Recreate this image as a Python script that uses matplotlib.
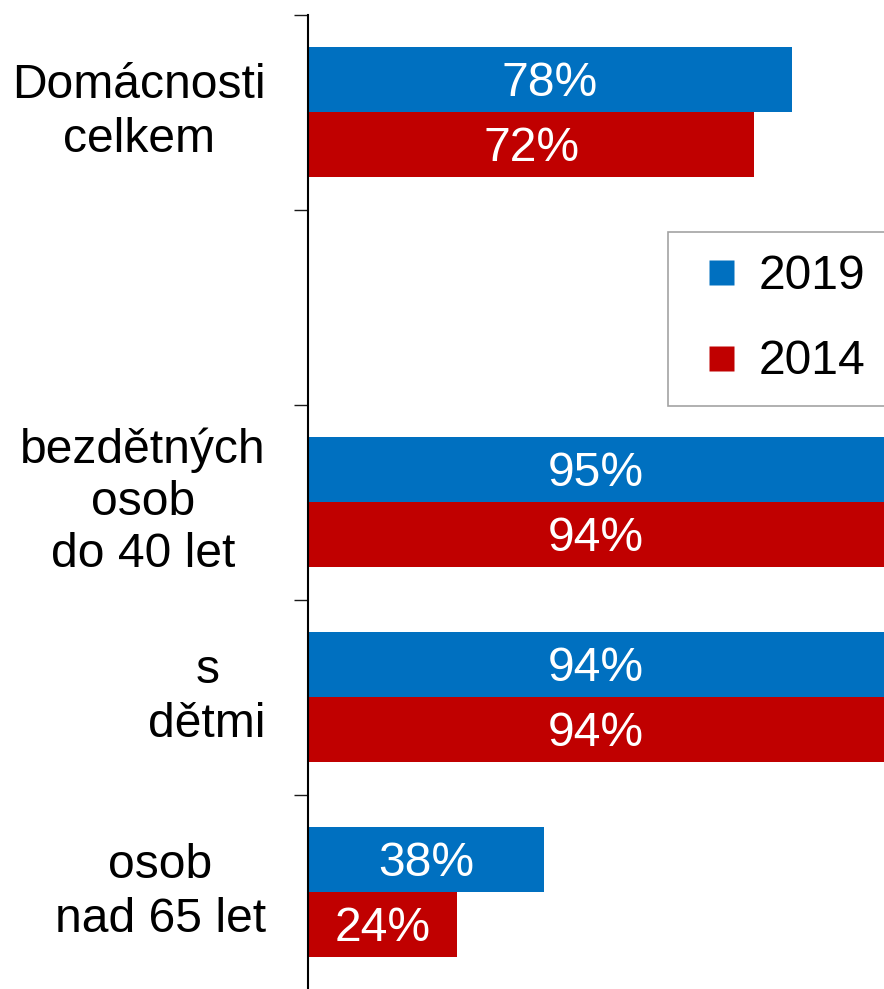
import numpy as np
import matplotlib.pyplot as plt
import matplotlib.transforms as mtransforms
from matplotlib.lines import Line2D

plt.rcParams['font.family'] = ['Liberation Sans', 'DejaVu Sans']

# data
kategorie = ['Domácnosti\ncelkem', '', 'bezdětných\nosob\ndo 40 let', 's\ndětmi', 'osob\nnad 65 let']
hodnoty_2019 = [78, None, 95, 94, 38]
hodnoty_2014 = [72, None, 94, 94, 24]
roky = ['2019', '2014']
barvy = ['#0070C0', '#C00000']

fig = plt.figure(figsize=(8.84, 9.89), dpi=100)
ax = fig.add_axes([308 / 884, -0.001, 1 - 308 / 884, 975 / 989])

xmax = 92.9
fs = 34.6
vyska = 1 / 3

for i, (v19, v14) in enumerate(zip(hodnoty_2019, hodnoty_2014)):
    stred = i + 0.5
    for v, off, c in ((v19, -vyska / 2, barvy[0]), (v14, vyska / 2, barvy[1])):
        if v is None:
            continue
        ax.barh(stred + off, v, height=vyska, color=c, edgecolor='none')
        # popisek uprostred viditelne casti sloupce
        ax.annotate(f'{v}%', (min(v, xmax) / 2, stred + off), xytext=(0, -11.5),
                    textcoords='offset points', color='white',
                    fontsize=fs, ha='center', va='baseline')

ax.set_xlim(0, xmax)
ax.set_ylim(len(kategorie), 0)

ax.set_xticks([])
ax.set_yticks(np.arange(len(kategorie) + 1))
ax.set_yticklabels([])
ax.tick_params(axis='y', direction='out', length=10, width=1.0, color='#1a1a1a')

for s in ['top', 'right', 'bottom']:
    ax.spines[s].set_visible(False)
ax.spines['left'].set_linewidth(1.5)

trans = mtransforms.blended_transform_factory(fig.transFigure, ax.transData)
for i, nazev in enumerate(kategorie):
    if nazev:
        ls = 1.2 if nazev.count('\n') > 1 else 1.27
        ax.text(266 / 884, i + 0.5, nazev, transform=trans, fontsize=fs,
                ha='right', va='center', multialignment='center', linespacing=ls)

handles = [Line2D([], [], marker='s', linestyle='none', markersize=18,
                  markerfacecolor=c, markeredgecolor='none') for c in barvy]
leg = fig.legend(handles, roky, loc='upper left',
                 bbox_to_anchor=(668 / 884, 1 - 232 / 989),
                 fontsize=fs, frameon=True, fancybox=False,
                 handlelength=1.32, handletextpad=0.12,
                 labelspacing=0.85, borderpad=0.45, borderaxespad=0)
leg.get_frame().set_edgecolor('#8c8c8c')
leg.get_frame().set_linewidth(1.2)

fig.savefig('out.png', dpi=100)
